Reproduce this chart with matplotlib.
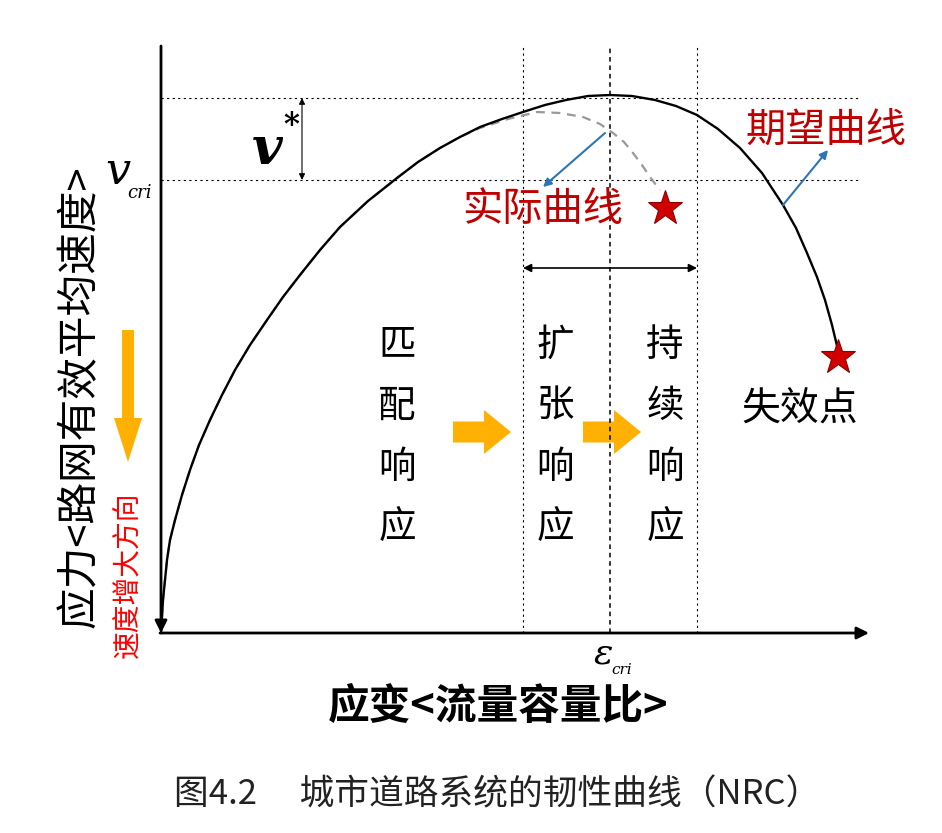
import numpy as np
import matplotlib.pyplot as plt
from matplotlib.patches import FancyArrow

plt.rcParams['font.family'] = ['Noto Sans CJK SC', 'DejaVu Sans']

# coordinates: offset from the origin of the sketch (x right, y up)
EXPECT_X = [0, 2, 6, 9, 14, 21, 29, 38, 49, 61, 74, 89, 106, 122, 139, 159, 179, 207,
            236, 257, 279, 299, 319, 341, 362, 384, 405, 427, 449, 471, 494, 515, 536,
            557, 579, 601, 622, 635, 646, 656, 664, 671, 677]
EXPECT_Y = [0, 33, 73, 93, 113, 138, 163, 188, 213, 238, 263, 288, 313, 336, 358, 383,
            406, 432, 455, 471, 485, 496, 506, 514, 521, 528, 533, 537, 538, 537, 533,
            527, 518, 504, 485, 460, 428, 405, 380, 356, 333, 308, 283]

ACTUAL_X = [0, 2, 6, 9, 14, 21, 29, 38, 49, 61, 74, 89, 106, 122, 139, 159, 179, 207,
            236, 257, 279, 299, 319, 347, 376, 399, 422, 439, 452, 463, 472, 481, 489,
            495, 499]
ACTUAL_Y = [0, 33, 73, 93, 113, 138, 163, 188, 213, 238, 263, 288, 313, 336, 358, 383,
            406, 432, 455, 471, 485, 496, 505, 514, 521, 520, 516, 509, 500, 491, 480,
            468, 456, 448, 443]

V_PEAK = 535
V_CRI = 453
STAGE_BOUNDS = [362, 449, 536]      # left of expansion, eps_cri, right of sustain
STAGES = ["匹配响应", "扩张响应", "持续响应"]
STAGE_X = [236, 394, 504]
FAIL_PT = (677, 276)
ACTUAL_END = (504, 425)

fig = plt.figure(figsize=(9.42, 8.33), dpi=100)
ax = fig.add_axes([0, 0, 1, 1])
ax.set_xlim(-161, 781)
ax.set_ylim(-200, 633)
ax.axis('off')

# axes of the sketch
ax.annotate("", xy=(0, 0), xytext=(0, 587),
            arrowprops=dict(arrowstyle='-|>', lw=2.0, color='black', mutation_scale=18,
                            shrinkA=0, shrinkB=0))
ax.annotate("", xy=(708, 0), xytext=(-1, 0),
            arrowprops=dict(arrowstyle='-|>', lw=2.0, color='black', mutation_scale=18,
                            shrinkA=0, shrinkB=0))

# guide lines
for yv in [V_PEAK, V_CRI]:
    ax.plot([0, 699], [yv, yv], color='black', lw=0.8, ls=(0, (2, 3)))
for i, xv in enumerate(STAGE_BOUNDS):
    ax.plot([xv, xv], [0, 588], color='black', lw=1.1 if i == 1 else 0.8,
            ls=(0, (3, 2.5)) if i == 1 else (0, (2, 3)))

# curves
ax.plot(ACTUAL_X, ACTUAL_Y, color='#999999', lw=1.6, ls=(0, (4, 3)))
ax.plot(EXPECT_X, EXPECT_Y, color='black', lw=1.7, solid_joinstyle='round')

# stars
ax.plot(*FAIL_PT, marker='*', ms=26, color='#D00000', mec='#8B0000', mew=0.8)
ax.plot(*ACTUAL_END, marker='*', ms=26, color='#D00000', mec='#8B0000', mew=0.8)

# v* span
ax.annotate("", xy=(141, V_PEAK), xytext=(141, V_CRI),
            arrowprops=dict(arrowstyle='<|-|>', lw=0.8, color='black', mutation_scale=9,
                            shrinkA=0, shrinkB=0))
ax.text(106, 484, "v", fontsize=38, family='DejaVu Serif', style='italic', weight='bold',
        ha='center', va='center')
ax.text(130, 508, "*", fontsize=22, family='DejaVu Serif', weight='bold',
        ha='center', va='center')

# expansion-to-sustain span
ax.annotate("", xy=(STAGE_BOUNDS[0], 365), xytext=(STAGE_BOUNDS[2], 365),
            arrowprops=dict(arrowstyle='<|-|>', lw=1.2, color='black', mutation_scale=12,
                            shrinkA=0, shrinkB=0))

# v_cri and eps_cri labels
ax.text(-43, 462, "v", fontsize=32, family='DejaVu Serif', style='italic',
        ha='center', va='center')
ax.text(-22, 440, "cri", fontsize=13, family='DejaVu Serif', style='italic',
        ha='center', va='center')
ax.text(442, -20, "ε", fontsize=26, family='DejaVu Serif', style='italic',
        ha='center', va='center')
ax.text(461, -37, "cri", fontsize=11, family='DejaVu Serif', style='italic',
        ha='center', va='center')

# stage text, written vertically
for label, xs in zip(STAGES, STAGE_X):
    for k, ch in enumerate(label):
        ax.text(xs, 288 - 61 * k, ch, fontsize=27, weight='medium',
                ha='center', va='center')

# orange block arrows
for x0 in [292, 422]:
    ax.add_patch(FancyArrow(x0, 201, 58, 0, width=21, head_width=44, head_length=27,
                            length_includes_head=True, color='#FFB000', lw=0))
ax.add_patch(FancyArrow(-33, 303, 0, -132, width=12, head_width=28, head_length=44,
                        length_includes_head=True, color='#FFB000', lw=0))

# red annotations
ax.text(382, 423, "实际曲线", fontsize=29, color='#C00000', ha='center', va='center')
ax.text(665, 503, "期望曲线", fontsize=29, color='#C00000', ha='center', va='center')
ax.annotate("", xy=(382, 446), xytext=(444, 500),
            arrowprops=dict(arrowstyle='-|>', lw=1.5, color='#2E75B6', mutation_scale=12,
                            shrinkA=0, shrinkB=0))
ax.annotate("", xy=(667, 483), xytext=(622, 428),
            arrowprops=dict(arrowstyle='-|>', lw=1.5, color='#2E75B6', mutation_scale=12,
                            shrinkA=0, shrinkB=0))
ax.text(639, 223, "失效点", fontsize=28, color='black', ha='center', va='center')

# axis titles
ax.text(-81, 236, "应力<路网有效平均速度>", fontsize=30, rotation=90,
        ha='center', va='center')
ax.text(-33, 58, "速度增大方向", fontsize=20, rotation=90, color='#FF0000',
        ha='center', va='center')
ax.text(337, -74, "应变<流量容量比>", fontsize=30, weight='bold',
        ha='center', va='center')

# caption
ax.text(336, -162, "图4.2　 城市道路系统的韧性曲线（NRC）", fontsize=25, color='#222222',
        ha='center', va='center')

fig.savefig("out.png", dpi=100, facecolor='white')
